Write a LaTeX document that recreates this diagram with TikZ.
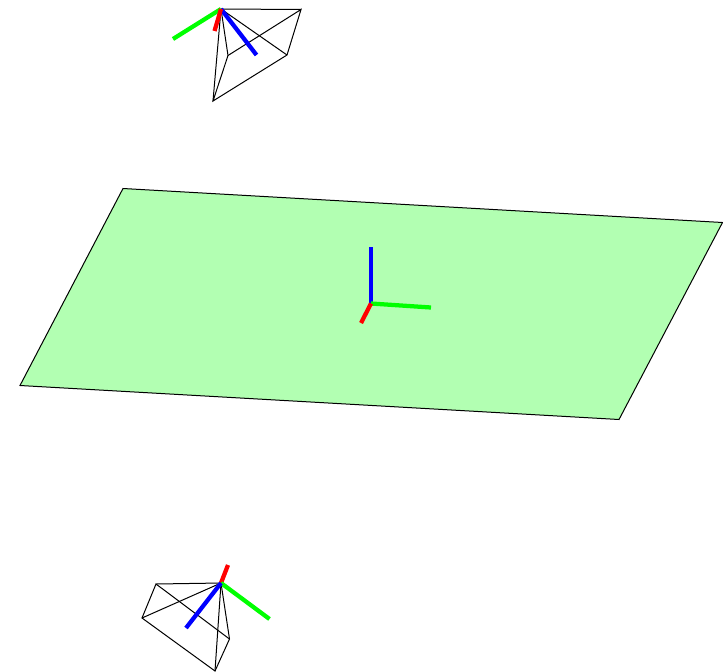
\documentclass[tikz,border=0pt]{standalone}
\usepackage{xcolor}
\usepackage{tikz}

\begin{document}
\begin{tikzpicture}[
    x=0.75pt, y=-0.75pt,
    plane/.style={draw=black, line width=0.75pt, fill=green!30},
    frustum/.style={draw=black, line width=0.75pt},
    axisx/.style={draw=red, line width=3.2pt},
    axisy/.style={draw=green, line width=3.2pt},
    axisz/.style={draw=blue, line width=3.2pt}
  ]
  \useasboundingbox (0,0) rectangle (723,671);

  % ground plane
  \draw[plane] (123,188.5) -- (722.5,222.5) -- (619,419.5) -- (20,385.5) -- cycle;

  % world frame
  \coordinate (world) at (371,303.5);
  \coordinate (worldx) at (361,323);
  \coordinate (worldy) at (431,307.5);
  \coordinate (worldz) at (371,247);
  \draw[axisz] (world) -- (worldz);
  \draw[axisy] (world) -- (worldy);
  \draw[axisx] (world) -- (worldx);

  % upper camera
  \coordinate (upper) at (221,9);
  \coordinate (upperA) at (301,9.5);
  \coordinate (upperB) at (287,55);
  \coordinate (upperC) at (213,101);
  \coordinate (upperD) at (228,55.5);
  \foreach \corner in {upperA,upperB,upperC,upperD}
    \draw[frustum] (upper) -- (\corner);
  \draw[frustum] (upperA) -- (upperB) -- (upperC) -- (upperD) -- cycle;
  \coordinate (upperx) at (214.5,31);
  \coordinate (uppery) at (173,39);
  \coordinate (upperz) at (256.5,55);
  \draw[axisy] (upper) -- (uppery);
  \draw[axisz] (upper) -- (upperz);
  \draw[axisx] (upper) -- (upperx);

  % lower camera
  \coordinate (lower) at (221,583);
  \coordinate (lowerA) at (156,584);
  \coordinate (lowerB) at (142,618);
  \coordinate (lowerC) at (215,671);
  \coordinate (lowerD) at (229.5,639);
  \foreach \corner in {lowerA,lowerB,lowerC,lowerD}
    \draw[frustum] (lower) -- (\corner);
  \draw[frustum] (lowerA) -- (lowerB) -- (lowerC) -- (lowerD) -- cycle;
  \coordinate (lowerx) at (228,565);
  \coordinate (lowery) at (269.5,619);
  \coordinate (lowerz) at (186,628);
  \draw[axisx] (lower) -- (lowerx);
  \draw[axisy] (lower) -- (lowery);
  \draw[axisz] (lower) -- (lowerz);
\end{tikzpicture}
\end{document}
